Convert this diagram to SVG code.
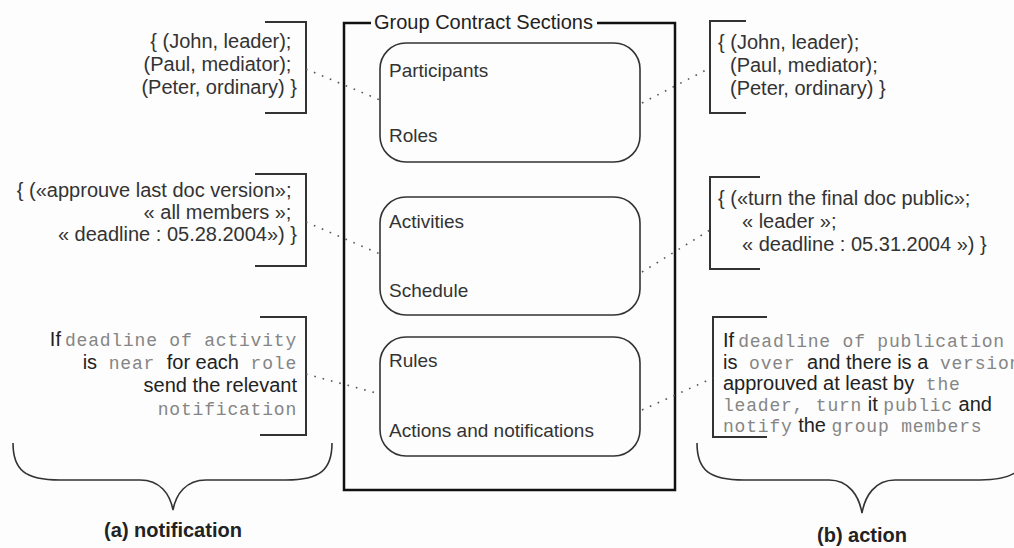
<svg xmlns="http://www.w3.org/2000/svg" width="1014" height="548" viewBox="0 0 1014 548">
  <style>
    .sans { font-family: "Liberation Sans", Arial, sans-serif; font-size: 20px; fill: #333; }
    .box-label { font-family: "Liberation Sans", Arial, sans-serif; font-size: 19px; fill: #333; }
    .title { font-family: "Liberation Sans", Arial, sans-serif; font-size: 20px; fill: #222; }
    .caption { font-family: "Liberation Sans", Arial, sans-serif; font-size: 20px; font-weight: bold; fill: #222; }
    .mono { font-family: "Liberation Mono", "Courier New", monospace; font-size: 18px; fill: #858585; letter-spacing: 0.8px; }
    .rule { fill: #222; }
    .section { fill: none; stroke: #333; stroke-width: 1.6; }
    .bracket { fill: none; stroke: #333; stroke-width: 2; }
    .brace { fill: none; stroke: #333; stroke-width: 1.6; }
    .dots { fill: none; stroke: #555; stroke-width: 1.6; stroke-dasharray: 1.6 7; }
  </style>

  <rect width="1014" height="548" fill="#fdfdfd"/>

  <!-- outer container: Group Contract Sections -->
  <g id="contract">
    <path d="M371,23 H344 V490 H675 V23 H597" fill="none" stroke="#111" stroke-width="2.5"/>
    <text class="title" x="374" y="29">Group Contract Sections</text>
  </g>

  <!-- the three sections -->
  <g id="section-participants">
    <rect class="section" x="380" y="43" width="260" height="119" rx="26" ry="26"/>
    <text class="box-label" x="389" y="77">Participants</text>
    <text class="box-label" x="389" y="142">Roles</text>
  </g>
  <g id="section-activities">
    <rect class="section" x="380" y="197" width="260" height="118" rx="26" ry="26"/>
    <text class="box-label" x="389" y="228">Activities</text>
    <text class="box-label" x="389" y="297">Schedule</text>
  </g>
  <g id="section-rules">
    <rect class="section" x="380" y="337" width="260" height="119" rx="26" ry="26"/>
    <text class="box-label" x="389" y="367">Rules</text>
    <text class="box-label" x="389" y="437">Actions and notifications</text>
  </g>

  <!-- (a) notification example -->
  <g id="note-participants-a">
    <path class="bracket" d="M265,22 H306 V113 H265"/>
    <text class="sans" text-anchor="end">
      <tspan x="297" y="48">{ (John, leader);</tspan>
      <tspan x="297" y="71">(Paul, mediator);</tspan>
      <tspan x="297" y="94">(Peter, ordinary) }</tspan>
    </text>
  </g>
  <g id="note-activities-a">
    <path class="bracket" d="M255,174 H306 V266 H255"/>
    <text class="sans" text-anchor="end">
      <tspan x="297" y="197">{ («approuve last doc version»;</tspan>
      <tspan x="297" y="219">« all members »;</tspan>
      <tspan x="297" y="241">« deadline : 05.28.2004») }</tspan>
    </text>
  </g>
  <g id="note-rules-a">
    <path class="bracket" d="M260,317 H306 V435 H260"/>
    <text class="sans rule" text-anchor="end" x="297" y="346">If<tspan class="mono" dx="4">deadline of activity</tspan></text>
    <text class="sans rule" text-anchor="end" x="297" y="369">is<tspan class="mono"> near </tspan>for each<tspan class="mono"> role</tspan></text>
    <text class="sans rule" text-anchor="end" x="297" y="392">send the relevant</text>
    <text class="mono" text-anchor="end" x="297" y="415">notification</text>
  </g>

  <!-- (b) action example -->
  <g id="note-participants-b">
    <path class="bracket" d="M746,21 H710 V113 H746"/>
    <text class="sans">
      <tspan x="718" y="49">{ (John, leader);</tspan>
      <tspan x="730" y="72">(Paul, mediator);</tspan>
      <tspan x="730" y="95">(Peter, ordinary) }</tspan>
    </text>
  </g>
  <g id="note-activities-b">
    <path class="bracket" d="M760,177 H710 V269 H760"/>
    <text class="sans">
      <tspan x="718" y="205">{ («turn the final doc public»;</tspan>
      <tspan x="742" y="228">« leader »;</tspan>
      <tspan x="742" y="251">« deadline : 05.31.2004 ») }</tspan>
    </text>
  </g>
  <g id="note-rules-b">
    <path class="bracket" d="M767,317 H713 V437 H767"/>
    <text class="sans rule" x="723" y="347">If<tspan class="mono" dx="4">deadline of publication</tspan></text>
    <text class="sans rule" x="723" y="369">is<tspan class="mono">  over  </tspan>and there is a<tspan class="mono"> version</tspan></text>
    <text class="sans rule" x="723" y="390">approuved at least by<tspan class="mono"> the</tspan></text>
    <text class="sans rule" x="723" y="411"><tspan class="mono">leader, turn</tspan> it <tspan class="mono">public</tspan> and</text>
    <text class="sans rule" x="723" y="432"><tspan class="mono">notify</tspan> the <tspan class="mono">group members</tspan></text>
  </g>

  <!-- grouping braces and captions -->
  <g id="caption-a">
    <path class="brace" d="M13,443 C13,470 25,480 60,480 L140,480 C160,480 170,494 173,510 C176,494 186,480 206,480 L286,480 C320,480 332,470 332,443"/>
    <text class="caption" x="173" y="537" text-anchor="middle">(a) notification</text>
  </g>
  <g id="caption-b">
    <path class="brace" d="M697,443 C697,470 709,480 744,480 L829,480 C849,480 859,496 862,513 C865,496 875,480 895,480 L980,480 C1015,480 1027,470 1027,443"/>
    <text class="caption" x="862" y="542" text-anchor="middle">(b) action</text>
  </g>

  <!-- dotted links from each section to its example values -->
  <g id="connectors">
    <line class="dots" x1="306" y1="69" x2="380" y2="100"/>
    <line class="dots" x1="306" y1="222" x2="380" y2="254"/>
    <line class="dots" x1="306" y1="374" x2="380" y2="394"/>
    <line class="dots" x1="642" y1="103" x2="710" y2="68"/>
    <line class="dots" x1="642" y1="272" x2="710" y2="230"/>
    <line class="dots" x1="642" y1="410" x2="713" y2="378"/>
  </g>
</svg>
